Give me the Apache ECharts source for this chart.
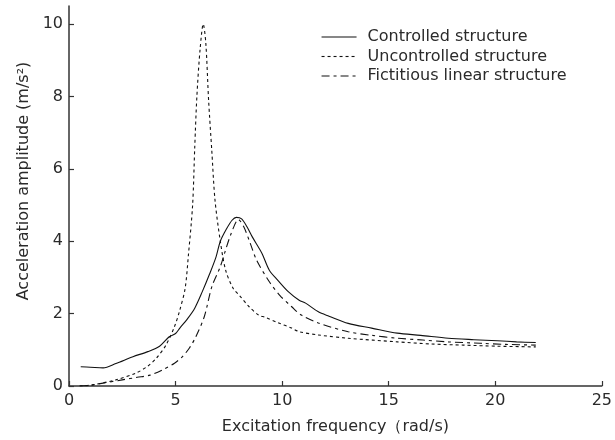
<!DOCTYPE html>
<html>
<head>
<meta charset="utf-8">
<script src="https://cdn.jsdelivr.net/npm/echarts@6/dist/echarts.min.js"></script>
<style>html,body{margin:0;padding:0;background:#fff}#c{width:615px;height:440px}</style>
</head>
<body>
<div id="c"></div>
<script>
var seriesNames = ['Controlled structure', 'Uncontrolled structure', 'Fictitious linear structure'];
var xTicks = [0, 5, 10, 15, 20, 25];
var yTicks = [0, 2, 4, 6, 8, 10];

var controlledF = [0.55, 1.0, 1.6, 2.2, 3.0, 3.7, 4.25, 4.7, 5.0, 5.2, 5.55, 5.9, 6.25, 6.6, 6.9, 7.1, 7.4, 7.65, 7.85, 8.1, 8.35, 8.6, 9.05, 9.4, 9.8, 10.3, 10.8, 11.1, 11.7, 12.2, 13.1, 14.2, 15.4, 16.5, 17.8, 19.0, 20.1, 21.0, 21.9];
var controlledA = [0.53, 0.52, 0.5, 0.62, 0.81, 0.95, 1.1, 1.36, 1.45, 1.6, 1.85, 2.15, 2.6, 3.1, 3.57, 4.0, 4.35, 4.58, 4.66, 4.62, 4.4, 4.12, 3.67, 3.2, 2.92, 2.6, 2.37, 2.29, 2.05, 1.93, 1.73, 1.6, 1.46, 1.4, 1.32, 1.28, 1.25, 1.22, 1.2];

var uncontrolledF = [0.5, 1.1, 2.2, 3.15, 3.7, 4.1, 4.55, 4.95, 5.2, 5.45, 5.6, 5.8, 5.9, 6.0, 6.15, 6.3, 6.42, 6.55, 6.7, 6.85, 7.1, 7.35, 7.7, 8.0, 8.45, 8.9, 9.2, 9.8, 10.45, 10.8, 11.7, 13.1, 15.4, 17.0, 18.5, 20.1, 21.9];
var uncontrolledA = [0.0, 0.03, 0.17, 0.36, 0.55, 0.77, 1.13, 1.64, 2.1, 2.7, 3.6, 5.0, 6.6, 8.0, 9.3, 10.0, 9.47, 7.9, 6.5, 5.14, 4.0, 3.2, 2.7, 2.5, 2.19, 1.96, 1.9, 1.75, 1.6, 1.5, 1.41, 1.32, 1.22, 1.16, 1.13, 1.1, 1.08];

var fictitiousF = [0.5, 1.0, 1.6, 2.5, 3.2, 3.8, 4.4, 4.95, 5.3, 5.65, 5.95, 6.35, 6.7, 7.1, 7.3, 7.6, 7.95, 8.2, 8.5, 8.8, 9.4, 9.9, 10.45, 10.9, 11.7, 13.1, 14.2, 15.4, 16.6, 17.8, 19.3, 20.5, 21.9];
var fictitiousA = [0.0, 0.02, 0.08, 0.17, 0.24, 0.3, 0.45, 0.63, 0.8, 1.05, 1.36, 1.92, 2.74, 3.3, 3.67, 4.2, 4.6, 4.4, 3.95, 3.48, 2.88, 2.5, 2.19, 1.96, 1.74, 1.5, 1.4, 1.32, 1.27, 1.22, 1.18, 1.15, 1.13];

function pairs(xs, ys) { return xs.map(function (x, i) { return [x, ys[i]]; }); }

var FONT = 'DejaVu Sans';
var TXT = '#2a2a2a';
var dashes = ['solid', [3, 3], [8, 4, 3, 4]];
var chart = echarts.init(document.getElementById('c'), null, { renderer: 'canvas' });
chart.setOption({
  animation: false,
  backgroundColor: '#fff',
  grid: { left: 69, right: 10, top: 6, bottom: 54, containLabel: false },
  legend: {
    orient: 'vertical',
    left: 316,
    top: 24,
    itemWidth: 35,
    itemHeight: 10,
    itemGap: 3.5,
    itemStyle: { opacity: 0, borderWidth: 0 },
    textStyle: { fontFamily: FONT, fontSize: 16, lineHeight: 16, color: TXT, padding: [0, 0, 0, 6] },
    data: seriesNames.map(function (n, i) {
      return { name: n, itemStyle: { opacity: 0, borderWidth: 0 }, lineStyle: { color: '#111', width: 1.1, type: dashes[i], opacity: 1 } };
    })
  },
  xAxis: {
    type: 'value', min: 0, max: 25, interval: 5,
    name: 'Excitation frequency（rad/s)', nameLocation: 'middle', nameGap: 33,
    nameTextStyle: { fontFamily: FONT, fontSize: 16, color: TXT },
    axisLine: { lineStyle: { color: '#333', width: 1.5 } },
    axisTick: { inside: true, length: 5, customValues: xTicks, lineStyle: { color: '#333', width: 1.2 } },
    axisLabel: { fontFamily: FONT, fontSize: 16, color: TXT, margin: 7, customValues: xTicks },
    splitLine: { show: false }
  },
  yAxis: {
    type: 'value', min: 0, max: 10.5,
    name: 'Acceleration amplitude (m/s²)', nameLocation: 'middle', nameGap: 33,
    nameTextStyle: { fontFamily: FONT, fontSize: 16, color: TXT, padding: [0, 0, 0, 30] },
    axisLine: { show: true, lineStyle: { color: '#333', width: 1.5 } },
    axisTick: { show: true, inside: true, length: 5, customValues: yTicks, lineStyle: { color: '#333', width: 1.2 } },
    axisLabel: { fontFamily: FONT, fontSize: 16, color: TXT, margin: 6, customValues: yTicks },
    splitLine: { show: false }
  },
  series: [
    { name: seriesNames[0], type: 'line', data: pairs(controlledF, controlledA), symbol: 'none', smooth: 0.3,
      lineStyle: { color: '#111', width: 1.1, type: dashes[0] }, itemStyle: { color: '#111' } },
    { name: seriesNames[1], type: 'line', data: pairs(uncontrolledF, uncontrolledA), symbol: 'none', smooth: 0.3,
      lineStyle: { color: '#111', width: 1.1, type: dashes[1] }, itemStyle: { color: '#111' } },
    { name: seriesNames[2], type: 'line', data: pairs(fictitiousF, fictitiousA), symbol: 'none', smooth: 0.3,
      lineStyle: { color: '#111', width: 1.1, type: dashes[2] }, itemStyle: { color: '#111' } }
  ]
});
</script>
</body>
</html>
